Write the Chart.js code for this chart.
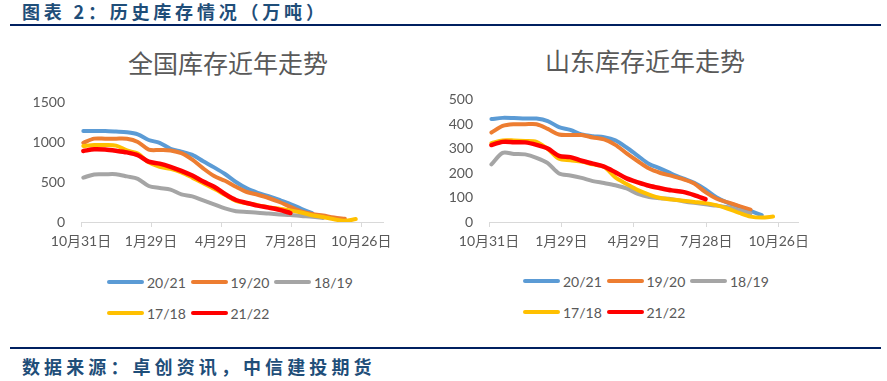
<!DOCTYPE html>
<html>
<head>
<meta charset="utf-8">
<script src="https://cdn.jsdelivr.net/npm/chart.js@4.4.0/dist/chart.umd.min.js"></script>
<style>
  html, body { margin: 0; padding: 0; background: #fff; }
  #page { position: relative; width: 887px; height: 381px; overflow: hidden; font-family: Lato, "Noto Sans CJK SC", sans-serif; }
  .hdr { position: absolute; left: 22px; font-family: "Noto Sans CJK SC", sans-serif; font-weight: bold; font-size: 18px; line-height: 22px; color: #1f4e79; white-space: nowrap; }
  .rule { position: absolute; left: 10px; width: 871px; height: 2px; background: #002060; }
  .title { position: absolute; width: 300px; text-align: center; font-family: "Noto Sans CJK SC", sans-serif; font-size: 25px; line-height: 30px; color: #595959; white-space: nowrap; }
  canvas { position: absolute; }
  .lg { position: absolute; height: 18px; display: flex; align-items: center; font-size: 14px; color: #595959; white-space: nowrap; }
  .lg i { display: inline-block; width: 37px; height: 4px; border-radius: 2px; margin-right: 3px; }
</style>
</head>
<body>
<div id="page">
  <div class="hdr" style="top:0; letter-spacing:3.8px;">图表 2：历史库存情况（万吨）</div>
  <div class="rule" style="top:24px;"></div>

  <div class="title" style="left:78px; top:47px;">全国库存近年走势</div>
  <div class="title" style="left:495px; top:45px;">山东库存近年走势</div>

  <canvas id="natChart" width="400" height="190" style="left:0; top:70px;"></canvas>
  <canvas id="sdChart" width="400" height="190" style="left:420px; top:70px;"></canvas>
  <div id="natLegend"></div>
  <div id="sdLegend"></div>

  <div class="rule" style="top:347px;"></div>
  <div class="hdr" style="top:355px; letter-spacing:4.1px;">数据来源：卓创资讯，中信建投期货</div>
</div>

<script>
'use strict';

/* ── 数据 ── */
const SERIES_NAMES  = ['20/21', '19/20', '18/19', '17/18', '21/22'];
const SERIES_COLORS = ['#5b9bd5', '#ed7d31', '#a5a5a5', '#ffc000', '#ff0000'];

/* x 轴：距 10月31日 的天数（每两周一个点） */
const WEEK_DAYS = [3, 17, 31, 45, 59, 73, 87, 101, 115, 129, 143, 157, 171,
                   185, 199, 213, 227, 241, 255, 269, 283, 297, 311, 325, 339, 353];
const TICK_DAYS   = [0, 90, 180, 270, 360];
const TICK_LABELS = ['10月31日', '1月29日', '4月29日', '7月28日', '10月26日'];

/* 全国库存（万吨） */
const NAT_2021 = [1137, 1137, 1137, 1130, 1121, 1095, 1025, 990, 915, 880, 840, 760, 683,
                  600, 500, 420, 365, 322, 275, 225, 165, 110];
const NAT_1920 = [990, 1042, 1042, 1042, 1040, 1000, 905, 900, 895, 860, 780, 670, 575,
                  515, 440, 375, 340, 300, 250, 190, 133, 100, 80, 57, 40];
const NAT_1819 = [555, 595, 597, 597, 570, 540, 450, 425, 405, 345, 320, 270, 220,
                  170, 135, 125, 117, 105, 95, 87, 75, 65, 50];
const NAT_1718 = [950, 962, 962, 955, 895, 855, 745, 690, 665, 620, 555, 485, 415,
                  340, 265, 235, 210, 185, 165, 145, 118, 85, 62, 35, 15, 37];
const NAT_2122 = [888, 908, 905, 890, 870, 835, 755, 730, 690, 640, 580, 505, 440,
                  350, 275, 238, 205, 180, 152, 112];

/* 山东库存（万吨） */
const SD_2021 = [420, 425, 424, 422, 422, 412, 387, 376, 357, 350, 346, 333, 304,
                 270, 237, 218, 197, 178, 160, 133, 100, 78, 63, 45, 28];
const SD_1920 = [365, 392, 399, 399, 399, 380, 357, 355, 355, 345, 337, 315, 280,
                 248, 218, 200, 188, 175, 157, 122, 95, 80, 65, 50];
const SD_1819 = [235, 282, 278, 276, 262, 240, 198, 190, 180, 167, 159, 150, 137,
                 115, 102, 97, 93, 85, 78, 72, 67, 60, 48, 35];
const SD_1718 = [322, 333, 333, 331, 327, 298, 258, 252, 247, 235, 225, 182, 155,
                 130, 112, 98, 92, 87, 82, 77, 68, 54, 37, 22, 18, 22];
const SD_2122 = [314, 327, 326, 325, 315, 300, 270, 265, 250, 238, 226, 203, 178,
                 162, 148, 138, 129, 123, 110, 93];

const FONT_FAMILY = 'Lato, "Noto Sans CJK SC", sans-serif';
const TEXT_COLOR  = '#595959';
const AXIS_COLOR  = '#d9d9d9';

/* ── 图表 ── */
function makeChart(id, seriesList, cfg) {
  const datasets = seriesList.map((vals, i) => ({
    label: SERIES_NAMES[i],
    data: vals.map((v, k) => ({ x: WEEK_DAYS[k], y: v })),
    borderColor: SERIES_COLORS[i],
    backgroundColor: SERIES_COLORS[i],
    borderWidth: i === 4 ? 4.5 : 4,
    pointRadius: 0,
    tension: 0.3,
    borderCapStyle: 'round',
    borderJoinStyle: 'round',
    fill: false,
    order: seriesList.length - i   /* 后面的系列画在上层 */
  }));

  return new Chart(document.getElementById(id), {
    type: 'line',
    data: { datasets },
    options: {
      responsive: false,
      animation: false,
      layout: { padding: { left: 0, top: cfg.padTop, right: cfg.padRight, bottom: 0 } },
      plugins: { legend: { display: false }, tooltip: { enabled: false } },
      scales: {
        x: {
          type: 'linear',
          min: 0,
          max: cfg.xMax,
          afterBuildTicks: (s) => { s.ticks = TICK_DAYS.map(v => ({ value: v })); },
          afterFit: (s) => { s.height = 38; },
          ticks: {
            autoSkip: false, maxRotation: 0, padding: 6, color: TEXT_COLOR,
            font: { family: FONT_FAMILY, size: 14 },
            callback: (v) => TICK_LABELS[TICK_DAYS.indexOf(v)]
          },
          grid: { display: true, drawOnChartArea: false, drawTicks: true, tickLength: 5, color: AXIS_COLOR },
          border: { display: true, color: AXIS_COLOR, width: 1 }
        },
        y: {
          min: 0,
          max: cfg.yMax,
          afterFit: (s) => { s.width = cfg.yWidth; },
          ticks: {
            stepSize: cfg.yStep, padding: 16, color: TEXT_COLOR,
            font: { family: FONT_FAMILY, size: 14 },
            callback: (v) => String(v)
          },
          grid: { display: false, drawTicks: false },
          border: { display: false }
        }
      }
    }
  });
}

function makeLegend(id, left, top, pitch) {
  const box = document.getElementById(id);
  const order = [0, 1, 2, 3, 4];
  order.forEach((si, n) => {
    const row = n < 3 ? 0 : 1;
    const col = n < 3 ? n : n - 3;
    const el = document.createElement('div');
    el.className = 'lg';
    el.style.left = (left + col * pitch) + 'px';
    el.style.top  = (top + row * 31 - 9) + 'px';
    el.innerHTML = `<i style="background:${SERIES_COLORS[si]}"></i>${SERIES_NAMES[si]}`;
    box.appendChild(el);
  });
}

makeChart('natChart', [NAT_2021, NAT_1920, NAT_1819, NAT_1718, NAT_2122],
  { xMax: 388, yMax: 1500, yStep: 500, yWidth: 81, padTop: 32, padRight: 17 });
makeChart('sdChart', [SD_2021, SD_1920, SD_1819, SD_1718, SD_2122],
  { xMax: 384, yMax: 500, yStep: 100, yWidth: 69, padTop: 29.5, padRight: 22 });

makeLegend('natLegend', 107, 282, 83.5);
makeLegend('sdLegend', 523, 281, 83.5);
</script>
</body>
</html>
